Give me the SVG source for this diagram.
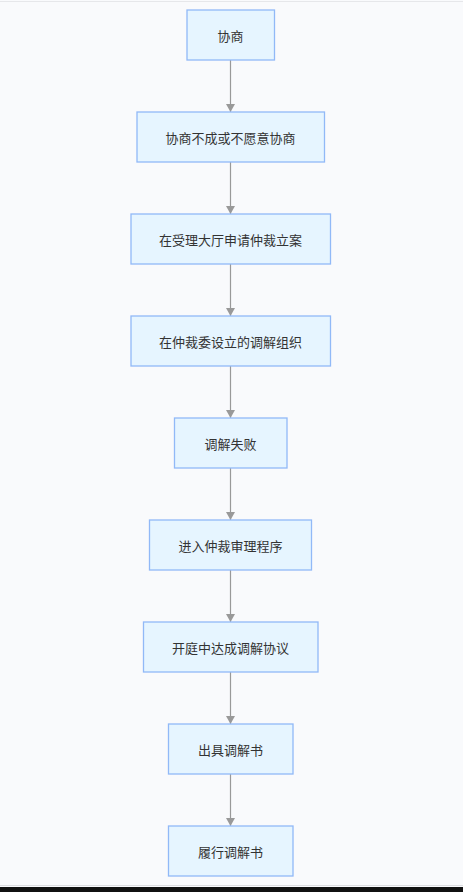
<svg xmlns="http://www.w3.org/2000/svg" width="463" height="892" viewBox="0 0 463 892">
<style>
.node rect{fill:#e6f5ff;stroke:#91b9f7;stroke-width:1.3}
.node text{font-family:"Noto Sans CJK SC","Liberation Sans",sans-serif;font-size:13px;fill:#333;text-anchor:middle;dominant-baseline:central}
.edge{stroke:#999;stroke-width:1.2;fill:none}
</style>
<defs>
<marker id="arr" viewBox="0 0 8 9" refX="8" refY="4.5" markerWidth="8" markerHeight="9" markerUnits="userSpaceOnUse" orient="auto">
<path d="M0,0 L8,4.5 L0,9 Z" fill="#999"/>
</marker>
</defs>
<rect x="0" y="0" width="463" height="892" fill="#f9fafc"/>
<line x1="0" y1="1.5" x2="463" y2="1.5" stroke="#e6e7ea" stroke-width="1"/>
<line x1="0" y1="885.5" x2="463" y2="885.5" stroke="#dcdde0" stroke-width="1"/>
<rect x="0" y="887" width="463" height="5" fill="#111"/>
<g id="connectors">
<line class="edge" x1="230.5" y1="60" x2="230.5" y2="112" marker-end="url(#arr)"/>
<line class="edge" x1="230.5" y1="162" x2="230.5" y2="214" marker-end="url(#arr)"/>
<line class="edge" x1="230.5" y1="264" x2="230.5" y2="316" marker-end="url(#arr)"/>
<line class="edge" x1="230.5" y1="366" x2="230.5" y2="418" marker-end="url(#arr)"/>
<line class="edge" x1="230.5" y1="468" x2="230.5" y2="520" marker-end="url(#arr)"/>
<line class="edge" x1="230.5" y1="570" x2="230.5" y2="622" marker-end="url(#arr)"/>
<line class="edge" x1="230.5" y1="672" x2="230.5" y2="724" marker-end="url(#arr)"/>
<line class="edge" x1="230.5" y1="774" x2="230.5" y2="826" marker-end="url(#arr)"/>
</g>
<g id="n1" class="node"><rect x="187" y="10" width="87.5" height="50"/><text x="230.5" y="35">协商</text></g>
<g id="n2" class="node"><rect x="137" y="112" width="187.5" height="50"/><text x="230.5" y="137">协商不成或不愿意协商</text></g>
<g id="n3" class="node"><rect x="131" y="214" width="199.5" height="50"/><text x="230.5" y="239">在受理大厅申请仲裁立案</text></g>
<g id="n4" class="node"><rect x="131" y="316" width="199.5" height="50"/><text x="230.5" y="341">在仲裁委设立的调解组织</text></g>
<g id="n5" class="node"><rect x="174.5" y="418" width="112.5" height="50"/><text x="230.5" y="443">调解失败</text></g>
<g id="n6" class="node"><rect x="149.5" y="520" width="162" height="50"/><text x="230.5" y="545">进入仲裁审理程序</text></g>
<g id="n7" class="node"><rect x="143.5" y="622" width="174.5" height="50"/><text x="230.5" y="647">开庭中达成调解协议</text></g>
<g id="n8" class="node"><rect x="168.5" y="724" width="124.5" height="50"/><text x="230.5" y="749">出具调解书</text></g>
<g id="n9" class="node"><rect x="168.5" y="826" width="124.5" height="50"/><text x="230.5" y="851">履行调解书</text></g>
</svg>
